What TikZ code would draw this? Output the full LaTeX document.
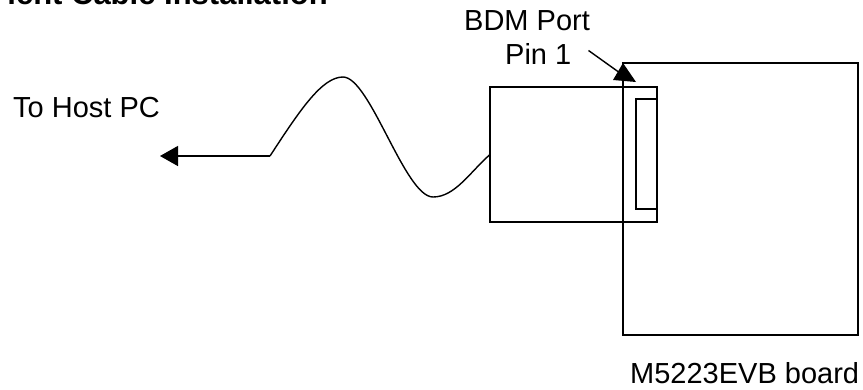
\documentclass[tikz,border=0pt]{standalone}
\usepackage{fontspec}
\setmainfont{Liberation Sans}
\usetikzlibrary{arrows.meta,positioning,calc}

\begin{document}
\begin{tikzpicture}[x=1pt,y=-1pt,
  lbl/.style={inner sep=0pt,font=\fontsize{29}{32}\selectfont},
  ttl/.style={inner sep=0pt,font=\fontsize{31}{34}\selectfont\bfseries},
  rect/.style={draw,line width=1.4pt,inner sep=0pt,outer sep=0pt},
  wire/.style={line width=1.4pt},
  arr/.style={-{Triangle[length=18pt,width=20pt]},line width=1.4pt}]
  \useasboundingbox (0,0) rectangle (863,389);
  \clip (0,0) rectangle (863,389);
  \node[ttl,anchor=base east] (title) at (328,4) {ient Cable Installation};
  \node[lbl,anchor=base west] (host) at (13,117) {To Host PC};
  \node[lbl,anchor=base west] (bdm)  at (464,30) {BDM Port};
  \node[lbl,anchor=base west] (pin)  at (505,64) {Pin 1};
  \node[lbl,anchor=base west] (evb)  at (630,383) {M5223EVB board};
  \node[rect,minimum width=167pt,minimum height=135pt] (pod) at (573.5,154.5) {};
  \node[rect,minimum width=21pt,minimum height=110pt,line width=1.6pt] (hdr) at (646.5,154) {};
  \node[rect,minimum width=235pt,minimum height=272pt,line width=1.8pt] (board) at (740.5,199) {};
  \coordinate (cab)  at (270,156);
  \coordinate (pc)   at (160,156);
  \coordinate (pin1) at (board.north west);
  \draw[arr] (cab) -- (pc);
  \draw[wire] (cab) .. controls (300,110) and (322,77) .. (343,77)
    .. controls (370,77) and (405,197) .. (433,197)
    .. controls (455,197) and (470,172) .. (pod.west);
  % pin 1 pointer
  \draw[wire] ($(pin.east)+(17,-3)$) -- ($(pin1)+(-3,10)$);
  \fill (pin1) -- ++(-10,17) -- ++(23,2) -- cycle;
\end{tikzpicture}
\end{document}
